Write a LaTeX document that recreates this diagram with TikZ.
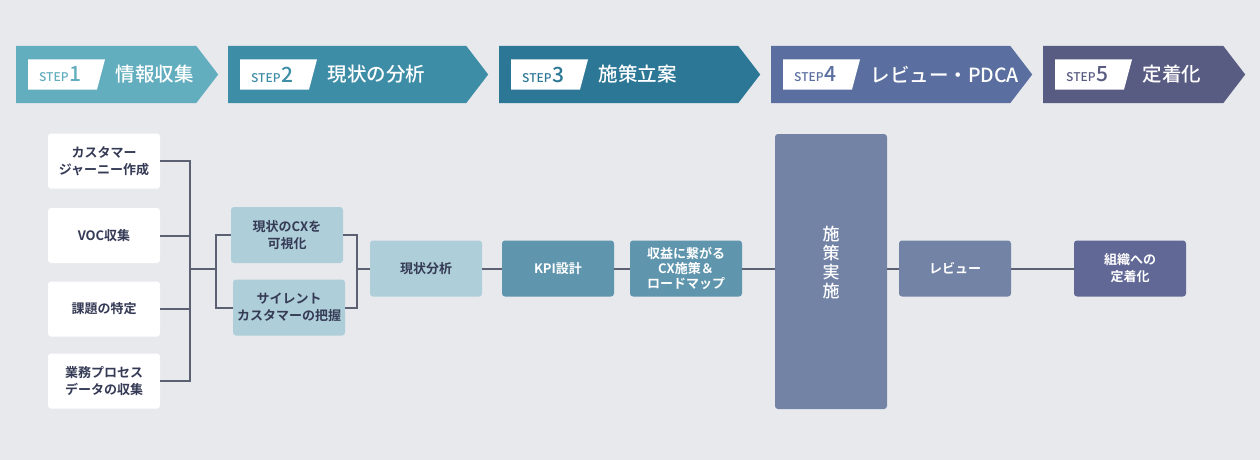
\documentclass[tikz,border=0pt]{standalone}
\usepackage{fontspec}
\setmainfont{Noto Sans CJK JP}[BoldFont={Noto Sans CJK JP Medium}]
\newfontfamily\boxfont{Noto Sans CJK JP Bold}
\usetikzlibrary{shapes.symbols,calc}

\definecolor{bgc}{HTML}{E8E9ED}
\definecolor{linec}{HTML}{5B6172}
\definecolor{txtc}{HTML}{353A55}
\definecolor{stepa}{HTML}{62AEBF}
\definecolor{stepb}{HTML}{3D8DA6}
\definecolor{stepc}{HTML}{2D7796}
\definecolor{stepd}{HTML}{5A6F9F}
\definecolor{stepe}{HTML}{585B82}
\definecolor{lightc}{HTML}{AECFD9}
\definecolor{midc}{HTML}{5F95AD}
\definecolor{slatec}{HTML}{7383A5}
\definecolor{darkc}{HTML}{616896}

\tikzset{
  stepbar/.style={signal, signal to=east, signal from=nowhere, signal pointer angle=105,
    minimum height=57pt, inner sep=0pt, anchor=west, fill=#1},
  infobox/.style={rounded corners=3pt, minimum width=112pt, minimum height=55pt,
    align=center, inner sep=0pt, font=\fontsize{13}{17}\selectfont\boxfont, text=txtc, fill=#1},
  infobox/.default=white,
  darkbox/.style={infobox=#1, text=white},
  conn/.style={draw=linec, line width=2pt}
}

% white STEP tag on a banner
\newcommand\steptag[3]{%
  \fill[white] ($(#1.west)+(12,-15)$) -- ++(77,0) -- ++(-8,30) -- ($(#1.west)+(12,15)$) -- cycle;
  \node[anchor=west, text=#2, inner sep=0pt, font=\bfseries] at ($(#1.west)+(23,0)$)
    {\fontsize{12}{12}\selectfont STEP\hspace{1pt}\fontsize{21}{21}\selectfont #3};
}

\begin{document}
\begin{tikzpicture}[x=1pt, y=-1pt]
  \fill[bgc] (0,0) rectangle (1260,460);
  \useasboundingbox (0,0) rectangle (1260,460);

  % step banners
  \node[stepbar=stepa, minimum width=202pt] (s1) at (16,74.5) {};
  \node[stepbar=stepb, minimum width=260pt] (s2) at (228,74.5) {};
  \node[stepbar=stepc, minimum width=261pt] (s3) at (499,74.5) {};
  \node[stepbar=stepd, minimum width=261pt] (s4) at (771,74.5) {};
  \node[stepbar=stepe, minimum width=202pt] (s5) at (1043,74.5) {};

  \steptag{s1}{stepa}{1}
  \steptag{s2}{stepb}{2}
  \steptag{s3}{stepc}{3}
  \steptag{s4}{stepd}{4}
  \steptag{s5}{stepe}{5}

  \node[anchor=west, text=white, font=\fontsize{19.5}{19.5}\selectfont\bfseries] (t1) at ($(s1.west)+(96,0)$) {情報収集};
  \node[anchor=west, text=white, font=\fontsize{19.5}{19.5}\selectfont\bfseries] (t2) at ($(s2.west)+(96,0)$) {現状の分析};
  \node[anchor=west, text=white, font=\fontsize{19.5}{19.5}\selectfont\bfseries] (t3) at ($(s3.west)+(96,0)$) {施策立案};
  \node[anchor=west, text=white, font=\fontsize{19.5}{19.5}\selectfont\bfseries] (t4) at ($(s4.west)+(96,0)$) {レビュー・PDCA};
  \node[anchor=west, text=white, font=\fontsize{19.5}{19.5}\selectfont\bfseries] (t5) at ($(s5.west)+(96,0)$) {定着化};

  % left column
  \node[infobox] (b1) at (104,161) {カスタマー\\ジャーニー作成};
  \node[infobox] (b2) at (104,235.5) {VOC収集};
  \node[infobox] (b3) at (104,309) {課題の特定};
  \node[infobox] (b4) at (104,381) {業務プロセス\\データの収集};

  \node[infobox=lightc, minimum height=56pt] (m1) at (287,235) {現状のCXを\\可視化};
  \node[infobox=lightc, minimum height=56pt] (m2) at (289,307.5) {サイレント\\カスタマーの把握};

  % main row
  \node[infobox=lightc, minimum height=56pt] (a1) at (426,268.5) {現状分析};
  \node[darkbox=midc, minimum height=56pt] (a2) at (558,268.5) {KPI設計};
  \node[darkbox=midc, minimum height=56pt, font=\fontsize{13}{15}\selectfont\boxfont] (a3) at (686,268.5) {収益に繋がる\\CX施策＆\\ロードマップ};
  \node[darkbox=slatec, minimum height=275pt,
    label={[text=white, align=center, yshift=9pt, font=\fontsize{17}{19}\selectfont\bfseries]center:施\\策\\実\\施}] (big) at (831,271.5) {};
  \node[darkbox=slatec, minimum height=56pt] (r1) at (955,268.5) {レビュー};
  \node[darkbox=darkc, minimum height=56pt] (r2) at (1130,268.5) {組織への\\定着化};

  \coordinate (j1) at (190,268.5);
  \coordinate (j2) at (216,268.5);
  \coordinate (j3) at (357,268.5);

  \draw[conn] (b1.east) -- (b1.east -| j1) |- (b4.east);
  \draw[conn] (b2.east) -- (b2.east -| j1);
  \draw[conn] (b3.east) -- (b3.east -| j1);
  \draw[conn] (j1) -- (j2);
  \draw[conn] (m1.west) -- (m1.west -| j2) |- (m2.west);
  \draw[conn] (m1.east) -- (m1.east -| j3) |- (m2.east);
  \draw[conn] (j3) -- (a1.west);
  \draw[conn] (a1) -- (a2);
  \draw[conn] (a2) -- (a3);
  \draw[conn] (a3.east) -- (a3.east -| big.west);
  \draw[conn] (r1.west -| big.east) -- (r1.west);
  \draw[conn] (r1) -- (r2);

\end{tikzpicture}
\end{document}
